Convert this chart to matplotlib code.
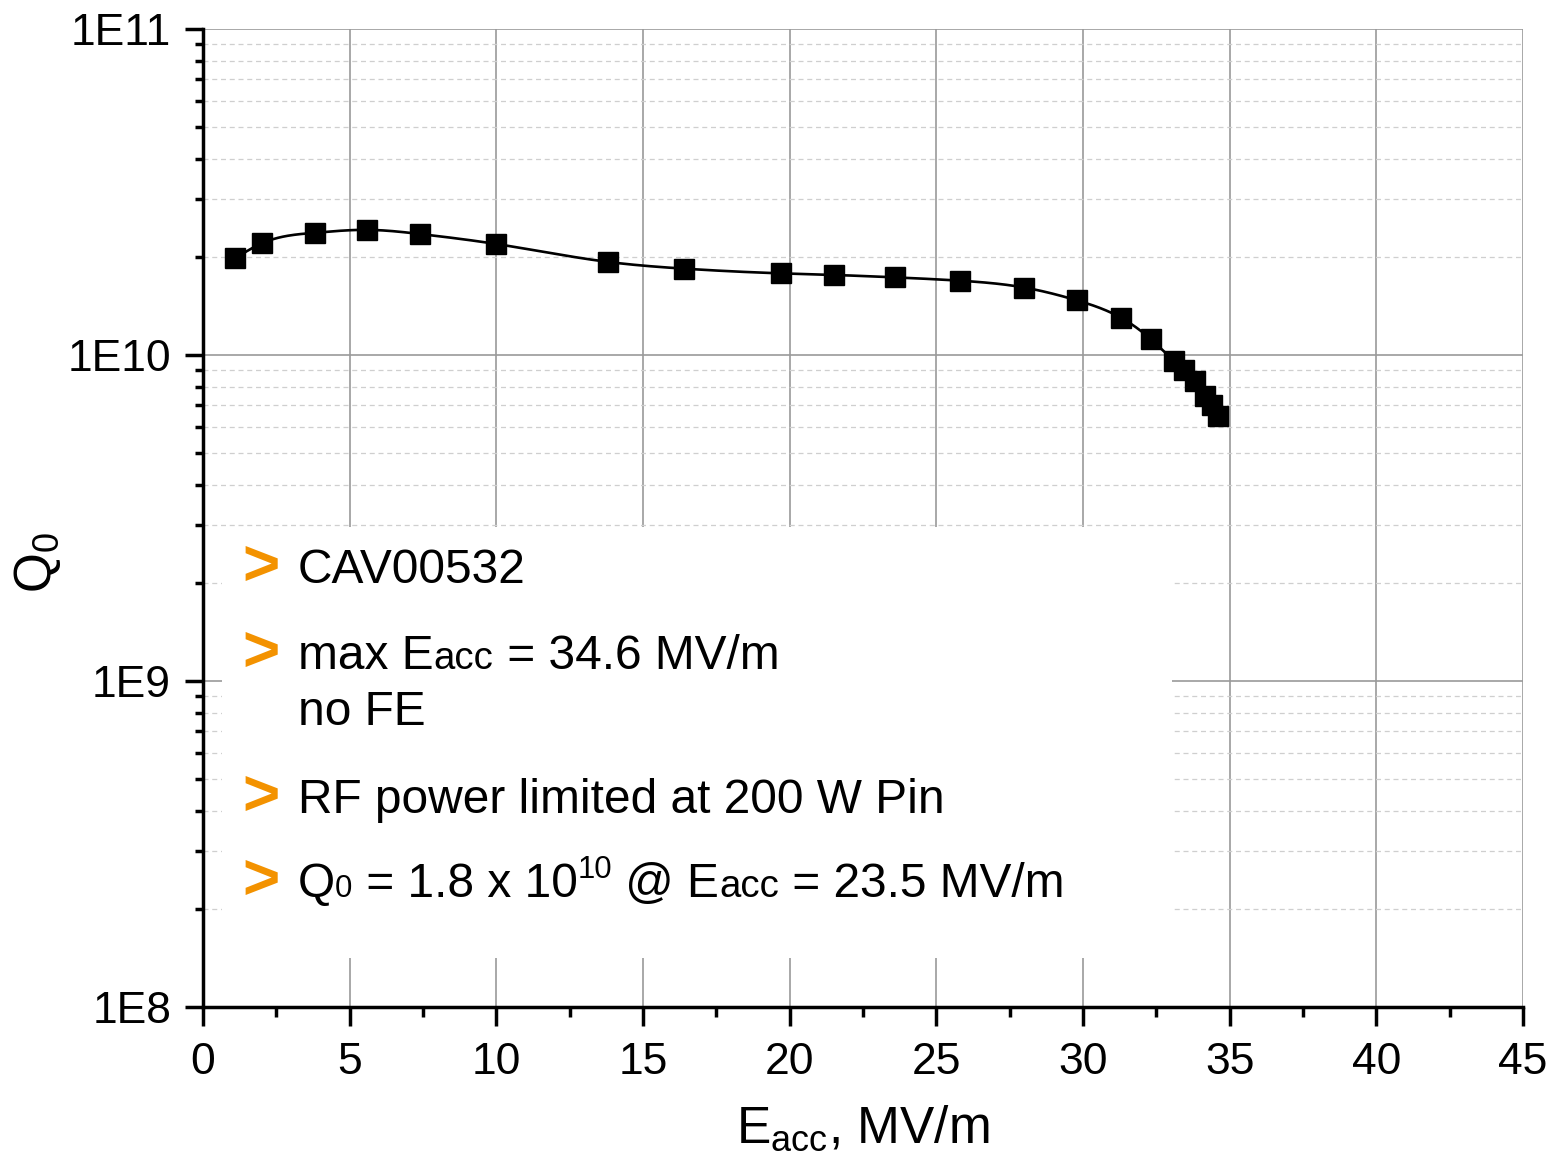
import numpy as np
import matplotlib
matplotlib.use("Agg")
import matplotlib.pyplot as plt
import matplotlib.ticker as ticker
from matplotlib.patches import Rectangle
from matplotlib.transforms import offset_copy

eacc = [1.1, 2.0, 3.8, 5.6, 7.4, 10.0, 13.8, 16.4, 19.7, 21.5, 23.6, 25.8,
        28.0, 29.8, 31.3, 32.3, 33.1, 33.45, 33.8, 34.15, 34.4, 34.6]
q0 = [1.98e10, 2.20e10, 2.37e10, 2.42e10, 2.35e10, 2.19e10, 1.93e10, 1.84e10,
      1.78e10, 1.76e10, 1.73e10, 1.69e10, 1.61e10, 1.47e10, 1.30e10, 1.12e10,
      9.6e9, 9.0e9, 8.3e9, 7.5e9, 7.0e9, 6.5e9]

xticks = [0, 5, 10, 15, 20, 25, 30, 35, 40, 45]
yticks = [1e8, 1e9, 1e10, 1e11]
ylabels = ["1E8", "1E9", "1E10", "1E11"]

orange = "#f39200"

plt.rcParams['font.family'] = ['Liberation Sans', 'DejaVu Sans']
plt.rcParams['mathtext.fontset'] = 'custom'
plt.rcParams['mathtext.rm'] = 'Liberation Sans'
plt.rcParams['mathtext.it'] = 'Liberation Sans:italic'


def natural_spline(x, y, n=600):
    # plain natural cubic spline, no scipy around
    x = np.asarray(x, float)
    y = np.asarray(y, float)
    k = len(x)
    h = np.diff(x)
    A = np.zeros((k, k))
    b = np.zeros(k)
    A[0, 0] = A[-1, -1] = 1
    for i in range(1, k - 1):
        A[i, i - 1] = h[i - 1]
        A[i, i] = 2 * (h[i - 1] + h[i])
        A[i, i + 1] = h[i]
        b[i] = 6 * ((y[i + 1] - y[i]) / h[i] - (y[i] - y[i - 1]) / h[i - 1])
    m = np.linalg.solve(A, b)
    xs = np.linspace(x[0], x[-1], n)
    idx = np.clip(np.searchsorted(x, xs) - 1, 0, k - 2)
    x0, x1 = x[idx], x[idx + 1]
    hh = x1 - x0
    t0, t1 = x1 - xs, xs - x0
    ys = (m[idx] * t0**3 + m[idx + 1] * t1**3) / (6 * hh) \
        + (y[idx] / hh - m[idx] * hh / 6) * t0 \
        + (y[idx + 1] / hh - m[idx + 1] * hh / 6) * t1
    return xs, ys


fig = plt.figure(figsize=(15.57, 11.64), dpi=100)
ax = fig.add_axes([0.1304, 0.1349, 0.8478, 0.8402])

xs, ys = natural_spline(eacc, np.log10(q0))
ax.plot(xs, 10**ys, color='black', lw=1.9, zorder=3)
ax.plot(eacc, q0, ls='none', marker='s', ms=15, color='black', zorder=4)

ax.set_yscale('log')
ax.set_xlim(0, 45)
ax.set_ylim(1e8, 1e11)
ax.set_xticks(xticks)
ax.xaxis.set_minor_locator(ticker.MultipleLocator(2.5))
ax.set_yticks(yticks)
ax.set_yticklabels(ylabels)
ax.yaxis.set_minor_locator(ticker.LogLocator(base=10, subs=np.arange(2, 10)))
ax.yaxis.set_minor_formatter(ticker.NullFormatter())

ax.set_axisbelow(True)
ax.grid(which='major', color='#9a9a9a', lw=1.2, ls='-')
ax.grid(which='minor', axis='y', color='#cfcfcf', lw=0.9, ls=(0, (4, 3)))

for s in ['top', 'right']:
    ax.spines[s].set_visible(False)
for s in ['left', 'bottom']:
    ax.spines[s].set_linewidth(2.5)

ax.tick_params(axis='both', which='both', direction='out', width=2.5, labelsize=32)
ax.tick_params(axis='x', which='major', length=14, pad=11)
ax.tick_params(axis='x', which='minor', length=7)
ax.tick_params(axis='y', which='major', length=13, pad=10)
ax.tick_params(axis='y', which='minor', length=6)

ax.set_xlabel(r'E$_\mathregular{acc}$, MV/m', fontsize=37, labelpad=15)
ax.set_ylabel(r'Q$_\mathregular{0}$', fontsize=37)
ax.yaxis.set_label_coords(-0.106, 0.455)

# white note box on top of the grid
ax.add_patch(Rectangle((0.0144, 0.050), 0.72, 0.441, transform=ax.transAxes,
                       facecolor='white', edgecolor='none', zorder=1))

fig.canvas.draw()
renderer = fig.canvas.get_renderer()


def rich_line(x, y, pieces, fs=34.5):
    # pieces: (text, size factor, rise in points)
    dx = 0
    for s, f, rise in pieces:
        tr = offset_copy(ax.transAxes, fig=fig, x=dx, y=rise * 100 / 72, units='dots')
        t = ax.text(x, y, s, fontsize=fs * f, va='baseline', ha='left',
                    transform=tr, zorder=5)
        dx += t.get_window_extent(renderer).width


notes_y = [0.4335, 0.3456, 0.1984, 0.1125]
for yy in notes_y:
    ax.text(0.030, yy - 0.002, '>', fontsize=46, fontweight='heavy', color=orange,
            va='baseline', ha='left', transform=ax.transAxes, zorder=5)

tx = 0.072
rich_line(tx, 0.4335, [("CAV00532", 1, 0)])
rich_line(tx, 0.3456, [("max E", 1, 0), ("acc", 0.8, 0), (" = 34.6 MV/m", 1, 0)])
rich_line(tx, 0.2883, [("no FE", 1, 0)])
rich_line(tx, 0.1984, [("RF power limited at 200 W Pin", 1, 0)])
rich_line(tx, 0.1125, [("Q", 1, 0), ("0", 0.65, 0), (" = 1.8 x 10", 1, 0),
                       ("10", 0.65, 14), (" @ E", 1, 0), ("acc", 0.8, 0),
                       (" = 23.5 MV/m", 1, 0)])

fig.savefig('out.png', dpi=100)
